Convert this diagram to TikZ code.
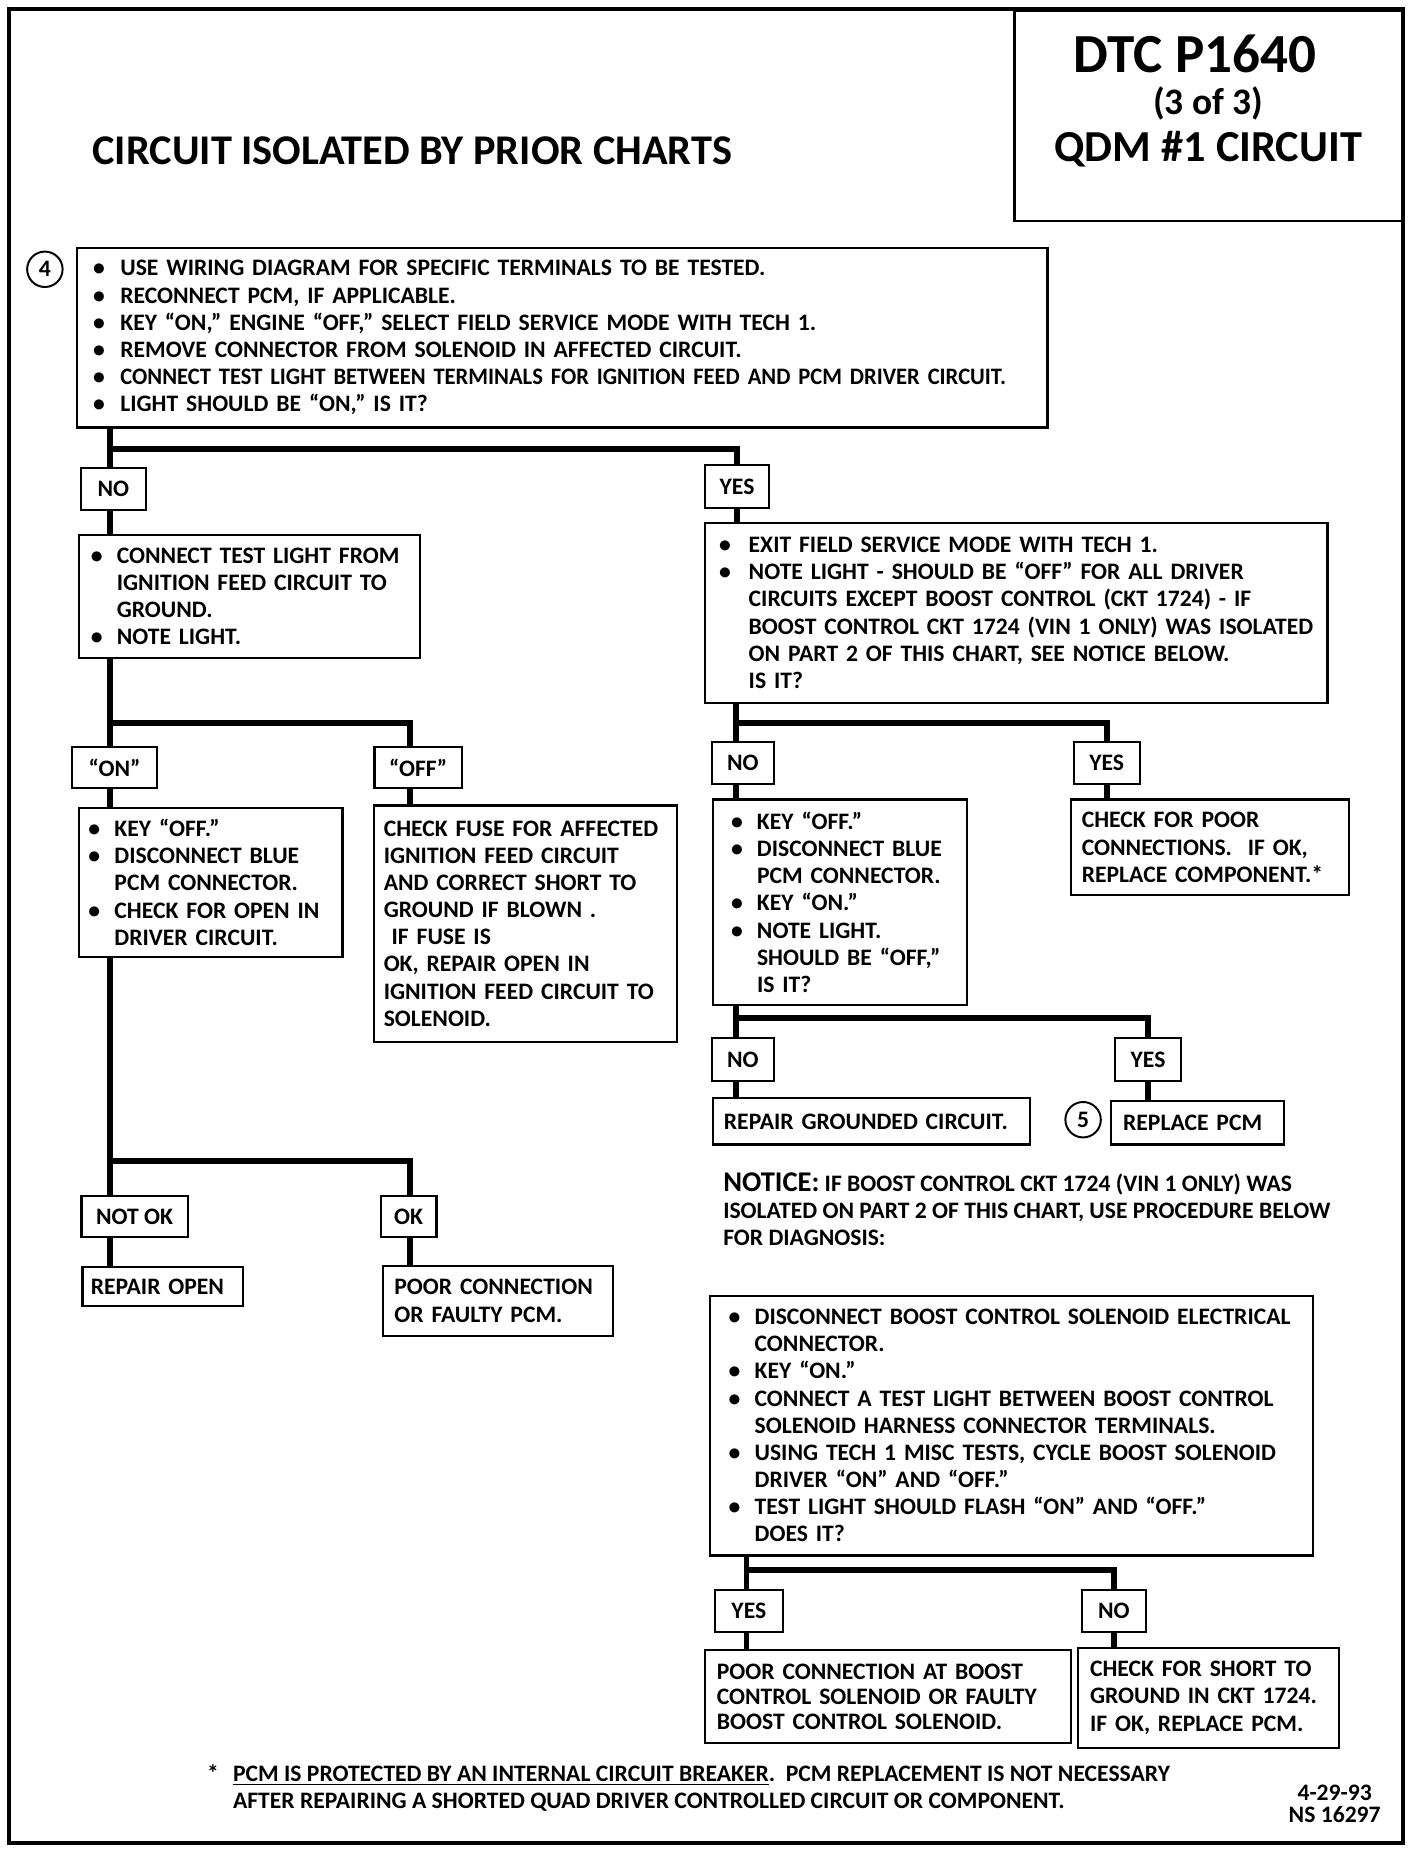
\documentclass[tikz,border=0pt]{standalone}
\usepackage{fontspec}
\setmainfont{Carlito}
\newfontfamily\narrowfont{Carlito}[FakeStretch=0.955]
\usetikzlibrary{positioning}
\newlength\pxu
\setlength\pxu{0.6pt}
% bullet and hanging indent for list lines
\newcommand\bl[1][23]{\makebox[#1\pxu][l]{\textbullet}}
\newcommand\ct[1][23]{\hspace*{#1\pxu}}

\begin{document}
\begin{tikzpicture}[x=0.6pt,y=-0.6pt,
  txt/.style={font=\bfseries\fontsize{12}{13.8}\selectfont,inner sep=0pt},
  box/.style={txt,draw,line width=1.1pt,anchor=north west,align=left},
  lab/.style={txt,draw,line width=1.1pt,align=center},
  num/.style={txt,draw,circle,line width=1pt,minimum size=30\pxu},
  wire/.style={line width=3pt}
]
\useasboundingbox[fill=white] (0,0) rectangle (1206,1568);
\draw[line width=2pt] (8,8) rectangle (1188,1560);

% header
\node[draw,line width=1.2pt,anchor=north east,minimum width=328\pxu,minimum height=178\pxu] (hdr) at (1188,8) {};
\node[txt,font=\bfseries\fontsize{28}{28}\selectfont] (dtc) at (1012,46) {DTC P1640};
\node[txt,font=\bfseries\fontsize{19}{19}\selectfont] (part) at (1023,88) {(3 of 3)};
\node[txt,font=\bfseries\fontsize{22.5}{22.5}\selectfont] (qdm) at (1023,126) {QDM \#1 CIRCUIT};
\node[txt,font=\bfseries\fontsize{21.5}{21.5}\selectfont,anchor=west] (ttl) at (78,128) {CIRCUIT ISOLATED BY PRIOR CHARTS};

% first test
\node[num] (n4) at (38,228) {4};
\node[box,minimum width=822\pxu,minimum height=152\pxu,text width=794\pxu] (chk) at (64,209)
  {\bl USE WIRING DIAGRAM FOR SPECIFIC TERMINALS TO BE TESTED.\\
   \bl RECONNECT PCM, IF APPLICABLE.\\
   \bl KEY “ON,” ENGINE “OFF,” SELECT FIELD SERVICE MODE WITH TECH 1.\\
   \bl REMOVE CONNECTOR FROM SOLENOID IN AFFECTED CIRCUIT.\\
   \bl{\narrowfont CONNECT TEST LIGHT BETWEEN TERMINALS FOR IGNITION FEED AND PCM DRIVER CIRCUIT.}\\
   \bl LIGHT SHOULD BE “ON,” IS IT?};

% left branch
\node[lab,minimum width=55\pxu,minimum height=36\pxu] (no1) at (96,414) {NO};
\node[box,minimum width=289\pxu,minimum height=104\pxu,text width=269\pxu] (nolt) at (66,452)
  {\bl[22]CONNECT TEST LIGHT FROM\\
   \ct[22]IGNITION FEED CIRCUIT TO\\
   \ct[22]GROUND.\\
   \bl[22]NOTE LIGHT.};
\node[lab,minimum width=72\pxu,minimum height=35\pxu] (on1) at (97,650) {“ON”};
\node[lab,minimum width=74\pxu,minimum height=35\pxu] (off1) at (354,650) {“OFF”};
\node[box,minimum width=223\pxu,minimum height=126\pxu,text width=207\pxu] (onbx) at (66,683)
  {\bl[22]KEY “OFF.”\\
   \bl[22]DISCONNECT BLUE\\
   \ct[22]PCM CONNECTOR.\\
   \bl[22]CHECK FOR OPEN IN\\
   \ct[22]DRIVER CIRCUIT.};
\node[box,minimum width=256\pxu,minimum height=200\pxu,text width=240\pxu] (offbx) at (316,681)
  {CHECK FUSE FOR AFFECTED\\
   IGNITION FEED CIRCUIT\\
   AND CORRECT SHORT TO\\
   GROUND IF BLOWN .\\
   \ IF FUSE IS\\
   OK, REPAIR OPEN IN\\
   IGNITION FEED CIRCUIT TO\\
   SOLENOID.};
\node[lab,minimum width=90\pxu,minimum height=35\pxu] (nok) at (114,1030) {NOT OK};
\node[lab,minimum width=47\pxu,minimum height=35\pxu] (ok1) at (346,1030) {OK};
\node[box,minimum width=136\pxu,minimum height=33\pxu,text width=122\pxu] (rpo) at (69,1072) {REPAIR OPEN};
\node[box,minimum width=195\pxu,minimum height=59\pxu,text width=175\pxu] (pcf) at (323,1071)
  {POOR CONNECTION\\ OR FAULTY PCM.};

% right branch
\node[lab,minimum width=54\pxu,minimum height=36\pxu] (yes1) at (624,412) {YES};
\node[box,minimum width=527\pxu,minimum height=152\pxu,text width=503\pxu] (yesbx) at (596,442)
  {\bl[25]EXIT FIELD SERVICE MODE WITH TECH 1.\\
   \bl[25]NOTE LIGHT - SHOULD BE “OFF” FOR ALL DRIVER\\
   \ct[25]CIRCUITS EXCEPT BOOST CONTROL (CKT 1724) - IF\\
   \ct[25]BOOST CONTROL CKT 1724 (VIN 1 ONLY) WAS ISOLATED\\
   \ct[25]ON PART 2 OF THIS CHART, SEE NOTICE BELOW.\\
   \ct[25]IS IT?};
\node[lab,minimum width=53\pxu,minimum height=36\pxu] (no2) at (629,646) {NO};
\node[lab,minimum width=56\pxu,minimum height=36\pxu] (yes2) at (937,646) {YES};
\node[box,minimum width=215\pxu,minimum height=174\pxu,text width=185\pxu] (nobx) at (603,676)
  {\bl[22]KEY “OFF.”\\
   \bl[22]DISCONNECT BLUE\\
   \ct[22]PCM CONNECTOR.\\
   \bl[22]KEY “ON.”\\
   \bl[22]NOTE LIGHT.\\
   \ct[22]SHOULD BE “OFF,”\\
   \ct[22]IS IT?};
\node[box,minimum width=235\pxu,minimum height=81\pxu,text width=217\pxu] (cpc) at (906,676)
  {CHECK FOR POOR\\
   CONNECTIONS.\ \ IF OK,\\
   REPLACE COMPONENT.*};
\node[lab,minimum width=53\pxu,minimum height=36\pxu] (no3) at (629,897) {NO};
\node[lab,minimum width=56\pxu,minimum height=36\pxu] (yes3) at (972,897) {YES};
\node[box,minimum width=268\pxu,minimum height=39\pxu,text width=250\pxu] (rgc) at (603,929) {REPAIR GROUNDED CIRCUIT.};
\node[num] (n5) at (917,948) {5};
\node[box,minimum width=146\pxu,minimum height=37\pxu,text width=126\pxu] (rpcm) at (940,931) {REPLACE PCM};

% notice and boost test
\node[txt,anchor=west,align=left] (ntc) at (612,1024)
  {{\fontsize{14.5}{14.5}\selectfont NOTICE:}\ IF BOOST CONTROL CKT 1724 (VIN 1 ONLY) WAS\\
   ISOLATED ON PART 2 OF THIS CHART, USE PROCEDURE BELOW\\
   FOR DIAGNOSIS:};
\node[box,minimum width=511\pxu,minimum height=220\pxu,text width=479\pxu] (bst) at (600,1096)
  {\bl[22]DISCONNECT BOOST CONTROL SOLENOID ELECTRICAL\\
   \ct[22]CONNECTOR.\\
   \bl[22]KEY “ON.”\\
   \bl[22]CONNECT A TEST LIGHT BETWEEN BOOST CONTROL\\
   \ct[22]SOLENOID HARNESS CONNECTOR TERMINALS.\\
   \bl[22]USING TECH 1 MISC TESTS, CYCLE BOOST SOLENOID\\
   \ct[22]DRIVER “ON” AND “OFF.”\\
   \bl[22]TEST LIGHT SHOULD FLASH “ON” AND “OFF.”\\
   \ct[22]DOES IT?};
\node[lab,minimum width=58\pxu,minimum height=36\pxu] (yes4) at (634,1364) {YES};
\node[lab,minimum width=54\pxu,minimum height=36\pxu] (no4) at (943,1364) {NO};
\node[box,font=\bfseries\fontsize{12}{12.6}\selectfont,minimum width=310\pxu,minimum height=79\pxu,text width=290\pxu] (pbs) at (596,1396)
  {POOR CONNECTION AT BOOST\\
   CONTROL SOLENOID OR FAULTY\\
   BOOST CONTROL SOLENOID.};
\node[box,minimum width=221\pxu,minimum height=85\pxu,text width=201\pxu] (cst) at (912,1394)
  {CHECK FOR SHORT TO\\
   GROUND IN CKT 1724.\\
   IF OK, REPLACE PCM.};

% footnote
\node[txt,anchor=west,align=left] (fnote) at (175,1514)
  {\makebox[22\pxu][l]{*}\underline{PCM IS PROTECTED BY AN INTERNAL CIRCUIT BREAKER}.\ \ PCM REPLACEMENT IS NOT NECESSARY\\
   \ct[22]AFTER REPAIRING A SHORTED QUAD DRIVER CONTROLLED CIRCUIT OR COMPONENT.};
\node[txt,align=center,font=\bfseries\fontsize{12}{11}\selectfont] (dte) at (1130,1527) {4-29-93\\NS 16297};

% connectors
\coordinate (b1) at (93,380);
\coordinate (b2) at (93,612);
\coordinate (b2r) at (347,612);
\coordinate (b3) at (93,983);
\coordinate (b3r) at (347,983);
\coordinate (c1) at (623,612);
\coordinate (c2) at (623,862);
\coordinate (d1) at (632,1329);

\draw[wire] (chk.south -| b1) -- (no1.north -| b1);
\draw[wire] (b1) -| (yes1.north);
\draw[wire] (no1.south -| b1) -- (nolt.north -| b1);
\draw[wire] (nolt.south -| b2) -- (on1.north -| b2);
\draw[wire] (b2) -- (b2r) -- (off1.north -| b2r);
\draw[wire] (on1.south -| b2) -- (onbx.north -| b2);
\draw[wire] (off1.south -| b2r) -- (offbx.north -| b2r);
\draw[wire] (onbx.south -| b3) -- (nok.north -| b3);
\draw[wire] (b3) -- (b3r) -- (ok1.north -| b3r);
\draw[wire] (nok.south -| b3) -- (rpo.north -| b3);
\draw[wire] (ok1.south -| b3r) -- (pcf.north -| b3r);

\draw[wire] (yes1.south) -- (yesbx.north -| yes1.south);
\draw[wire] (yesbx.south -| c1) -- (no2.north -| c1);
\draw[wire] (c1) -| (yes2.north);
\draw[wire] (no2.south -| c1) -- (nobx.north -| c1);
\draw[wire] (yes2.south) -- (cpc.north -| yes2.south);
\draw[wire] (nobx.south -| c2) -- (no3.north -| c2);
\draw[wire] (c2) -| (yes3.north);
\draw[wire] (no3.south -| c2) -- (rgc.north -| c2);
\draw[wire] (yes3.south) -- (rpcm.north -| yes3.south);
\draw[wire] (bst.south -| d1) -- (yes4.north -| d1);
\draw[wire] (d1) -| (no4.north);
\draw[wire] (yes4.south -| d1) -- (pbs.north -| d1);
\draw[wire] (no4.south) -- (cst.north -| no4.south);
\end{tikzpicture}
\end{document}
